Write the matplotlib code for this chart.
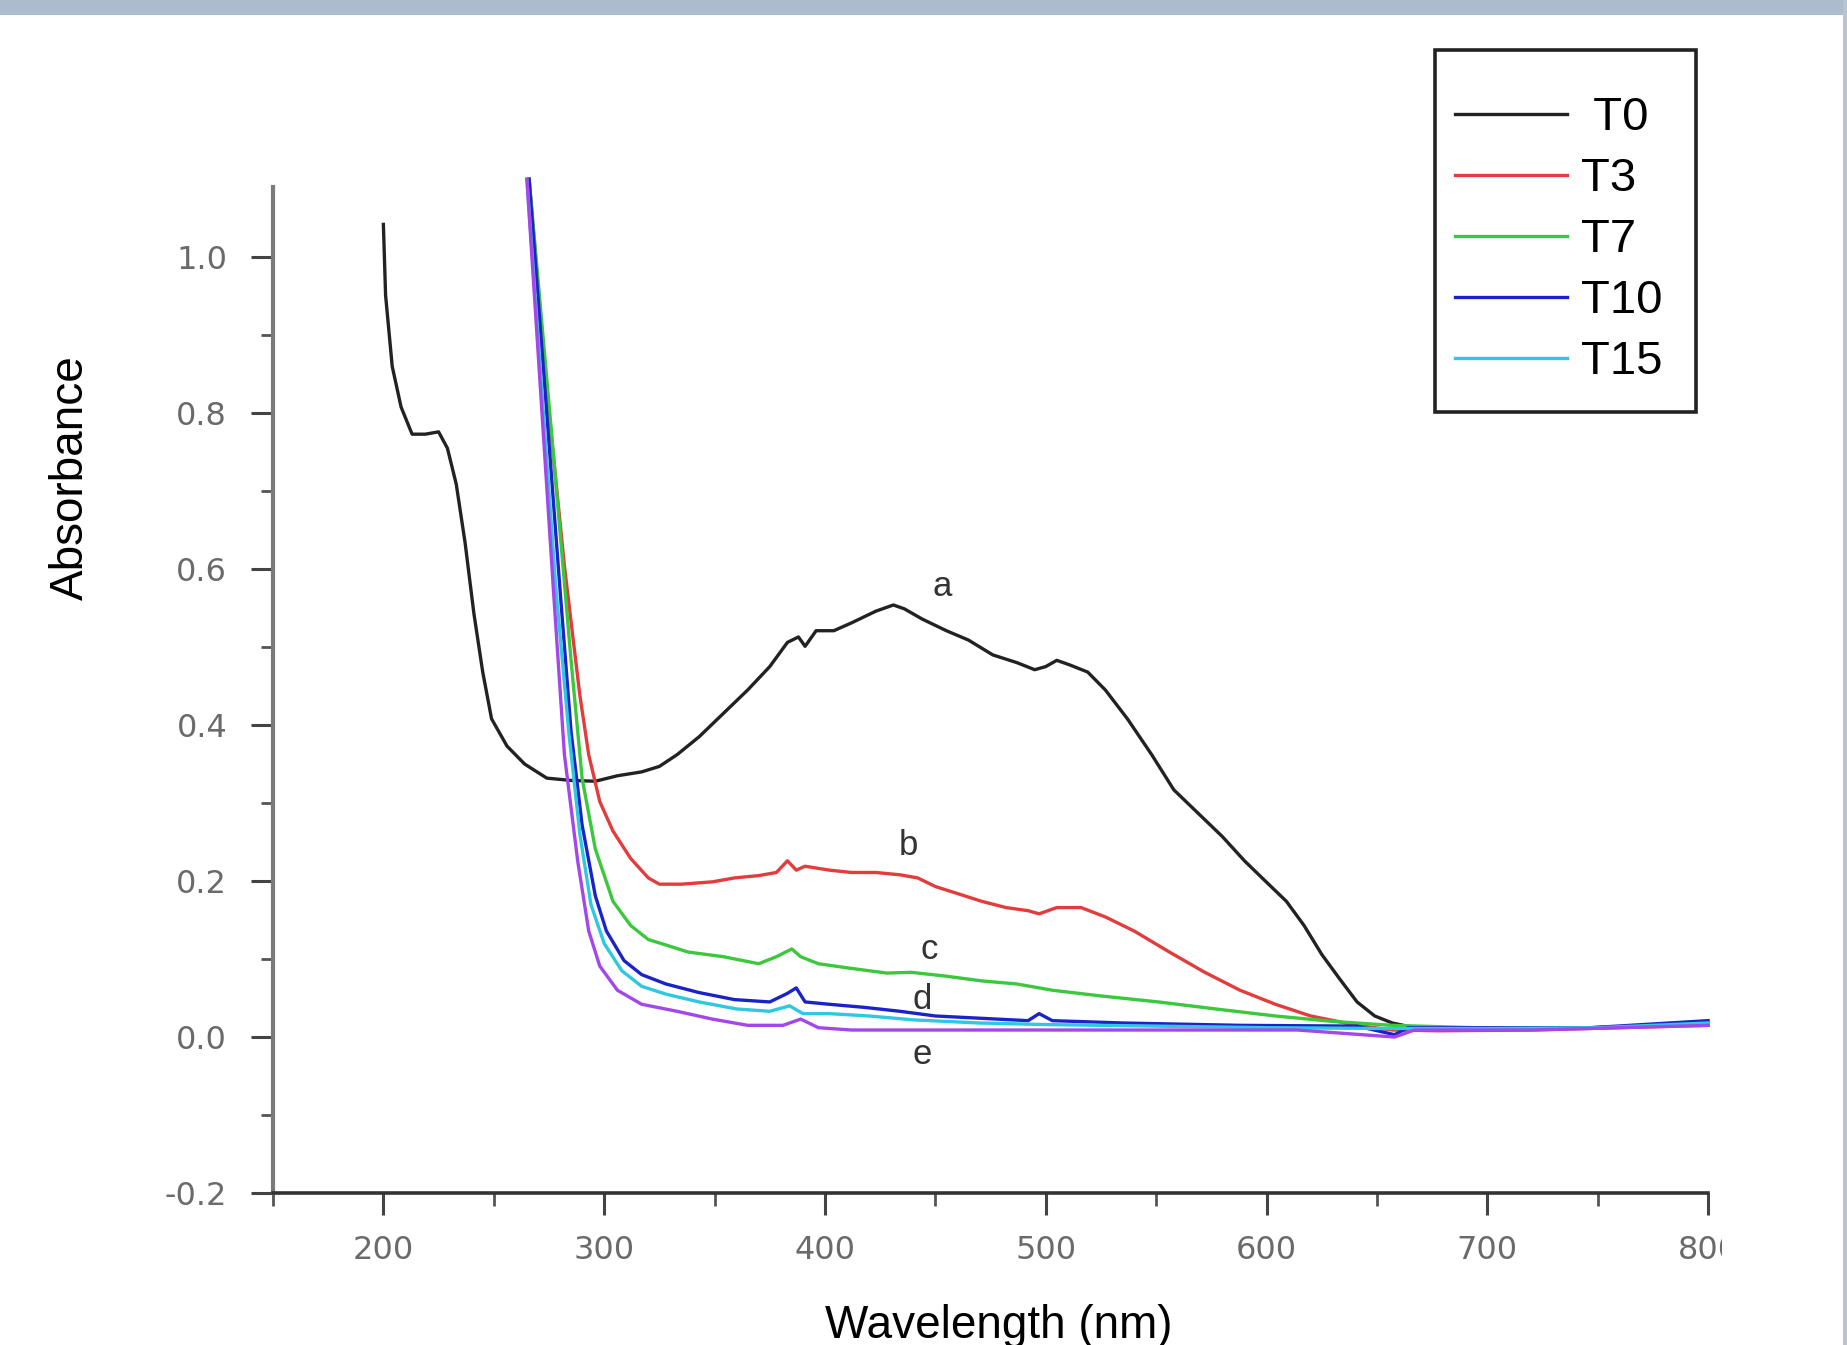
import matplotlib
matplotlib.use("Agg")
import matplotlib.pyplot as plt
from matplotlib.patches import Rectangle

plt.rcParams['font.family'] = ['Liberation Sans', 'DejaVu Sans']

# --- data (wavelength nm, absorbance) ---
t0_x = [200, 201, 204, 208, 213, 219, 225, 229, 233, 237, 241, 245, 249, 256, 264, 274,
        285, 296, 306, 317, 325, 333, 343, 354, 365, 375, 383, 388, 391, 396, 404, 412,
        423, 431, 436, 444, 455, 465, 476, 487, 495, 500, 505, 511, 519, 527, 537, 548,
        558, 569, 580, 590, 598, 609, 617, 625, 633, 641, 649, 657, 667, 683, 699, 720,
        747, 774, 800]
t0_y = [1.042, 0.951, 0.860, 0.808, 0.773, 0.773, 0.776, 0.755, 0.709, 0.634, 0.543, 0.468,
        0.408, 0.373, 0.350, 0.332, 0.329, 0.328, 0.335, 0.340, 0.347, 0.362, 0.385, 0.415,
        0.445, 0.475, 0.506, 0.513, 0.501, 0.521, 0.521, 0.531, 0.546, 0.554, 0.549, 0.536,
        0.521, 0.509, 0.490, 0.480, 0.471, 0.475, 0.483, 0.477, 0.468, 0.445, 0.408, 0.362,
        0.317, 0.287, 0.257, 0.226, 0.204, 0.174, 0.143, 0.106, 0.075, 0.045, 0.027, 0.018,
        0.012, 0.009, 0.009, 0.011, 0.012, 0.014, 0.018]

t3_x = [266, 274, 282, 289, 293, 298, 304, 312, 320, 325, 335, 349, 359, 370, 378, 383,
        387, 391, 402, 412, 423, 434, 442, 450, 460, 471, 482, 492, 497, 505, 516, 527,
        540, 556, 572, 588, 604, 620, 641, 657, 678, 720, 800]
t3_y = [1.10, 0.83, 0.604, 0.438, 0.362, 0.302, 0.264, 0.229, 0.204, 0.196, 0.196, 0.199,
        0.204, 0.207, 0.211, 0.226, 0.214, 0.219, 0.214, 0.211, 0.211, 0.208, 0.204, 0.193,
        0.184, 0.174, 0.166, 0.162, 0.158, 0.166, 0.166, 0.154, 0.136, 0.109, 0.083, 0.060,
        0.042, 0.027, 0.015, 0.009, 0.008, 0.009, 0.015]

t7_x = [266, 276, 285, 290, 296, 304, 312, 320, 328, 338, 354, 370, 378, 385, 389, 397,
        412, 428, 439, 455, 471, 487, 503, 524, 551, 577, 604, 630, 657, 694, 747, 800]
t7_y = [1.10, 0.78, 0.483, 0.332, 0.241, 0.174, 0.143, 0.125, 0.118, 0.109, 0.103, 0.094,
        0.103, 0.113, 0.103, 0.094, 0.088, 0.082, 0.083, 0.078, 0.072, 0.068, 0.060, 0.053,
        0.045, 0.036, 0.027, 0.020, 0.015, 0.012, 0.012, 0.017]

t10_x = [266, 280, 285, 290, 296, 301, 309, 317, 328, 343, 359, 375, 383, 387, 391, 402,
         418, 434, 450, 471, 492, 497, 503, 535, 588, 641, 658, 664, 694, 747, 800]
t10_y = [1.10, 0.574, 0.392, 0.272, 0.181, 0.136, 0.098, 0.080, 0.068, 0.057, 0.048, 0.045,
         0.056, 0.063, 0.045, 0.042, 0.038, 0.033, 0.027, 0.024, 0.021, 0.030, 0.021, 0.018,
         0.015, 0.014, 0.003, 0.012, 0.012, 0.012, 0.021]

t15_x = [265, 278, 284, 289, 294, 300, 308, 317, 328, 343, 360, 375, 384, 390, 402, 420,
         440, 470, 500, 550, 600, 650, 700, 750, 800]
t15_y = [1.10, 0.58, 0.39, 0.26, 0.17, 0.12, 0.085, 0.065, 0.055, 0.045, 0.036, 0.033,
         0.040, 0.030, 0.030, 0.027, 0.022, 0.018, 0.016, 0.014, 0.012, 0.011, 0.011, 0.012,
         0.018]

# unlabelled sixth trace (violet, curve "e")
t6_x = [265, 277, 282, 288, 293, 298, 306, 317, 333, 349, 365, 381, 389, 397, 412, 434,
        455, 482, 508, 561, 614, 658, 667, 720, 800]
t6_y = [1.10, 0.574, 0.362, 0.226, 0.136, 0.091, 0.060, 0.042, 0.033, 0.023, 0.015, 0.015,
        0.023, 0.012, 0.009, 0.009, 0.009, 0.009, 0.009, 0.009, 0.009, 0.000, 0.009, 0.009,
        0.015]

series_names = [' T0', 'T3', 'T7', 'T10', 'T15']
curve_letters = ['a', 'b', 'c', 'd', 'e']
letter_x = [453, 438, 447, 444, 444]
letter_y = [0.578, 0.245, 0.112, 0.048, -0.023]

x_ticks = [200, 300, 400, 500, 600, 700, 800]
y_ticks = [-0.2, 0.0, 0.2, 0.4, 0.6, 0.8, 1.0]

fig = plt.figure(figsize=(18.47, 13.45), dpi=100)
ax = fig.add_axes([0.1478, 0.1130, 0.7770, 0.7480])

colors = ['#222222', '#e23c3c', '#3cc83c', '#1c22c8', '#2ec8e0']
xs = [t0_x, t3_x, t7_x, t10_x, t15_x]
ys = [t0_y, t3_y, t7_y, t10_y, t15_y]
for x, y, c, name in zip(xs, ys, colors, series_names):
    ax.plot(x, y, color=c, lw=2.4, label=name, clip_on=False)
ax.plot(t6_x, t6_y, color='#a447e8', lw=2.4, label='_nolegend_', clip_on=False)

for lx, ly, s in zip(letter_x, letter_y, curve_letters):
    ax.text(lx, ly, s, fontsize=25, color='#333333', ha='center', va='center')

ax.set_xlim(153, 800)
ax.set_ylim(-0.2, 1.09)
ax.set_xticks(x_ticks)
ax.set_xticks(range(150, 801, 50), minor=True)
ax.set_yticks(y_ticks)
ax.set_yticks([-0.1, 0.1, 0.3, 0.5, 0.7, 0.9], minor=True)
ax.set_yticklabels(['-0.2', '0.0', '0.2', '0.4', '0.6', '0.8', '1.0'])

for s in ['top', 'right']:
    ax.spines[s].set_visible(False)
ax.spines['left'].set_color('#7a7a7a')
ax.spines['left'].set_linewidth(3.0)
ax.spines['bottom'].set_color('#333333')
ax.spines['bottom'].set_linewidth(2.6)

ax.tick_params(axis='both', which='major', length=16, width=2.2, color='#444444',
               labelsize=23, labelcolor='#6a6a6a', direction='out')
ax.tick_params(axis='both', which='minor', length=9, width=2.0, color='#555555',
               direction='out')
ax.tick_params(axis='x', which='major', pad=14)
ax.tick_params(axis='y', which='major', pad=17)
for lab in ax.get_xticklabels() + ax.get_yticklabels():
    lab.set_family('DejaVu Sans')

# legend entries without frame, box drawn separately
leg = ax.legend(loc='upper left', bbox_to_anchor=(1455 / 1847, 0.9283),
                bbox_transform=fig.transFigure, fontsize=34, frameon=False,
                handlelength=2.37, handletextpad=0.3, labelspacing=0.36,
                borderpad=0, borderaxespad=0)
fig.patches.append(Rectangle((1435 / 1847, 1 - 412 / 1345), 261 / 1847, 362 / 1345,
                             transform=fig.transFigure, facecolor='none',
                             edgecolor='#222222', linewidth=2.6, zorder=4))

fig.text(0.0384, 0.645, 'Absorbance', rotation=90, fontsize=33,
         ha='center', va='center')
fig.text(0.541, 0.0052, 'Wavelength (nm)', fontsize=33, ha='center', va='baseline')

# screenshot framing: blue-grey top band, right edge, cropped "800" label
fig.patches.append(Rectangle((0, 1 - 15 / 1345), 1, 15 / 1345, transform=fig.transFigure,
                             facecolor='#adbccd', edgecolor='none', zorder=5))
fig.patches.append(Rectangle((1722 / 1847, 0.03), 0.06, 0.07, transform=fig.transFigure,
                             facecolor='white', edgecolor='none', zorder=5))
fig.patches.append(Rectangle((1843 / 1847, 0), 4 / 1847, 1, transform=fig.transFigure,
                             facecolor='#b8c4d2', edgecolor='none', zorder=5))

fig.savefig('out.png', dpi=100, facecolor='white')
